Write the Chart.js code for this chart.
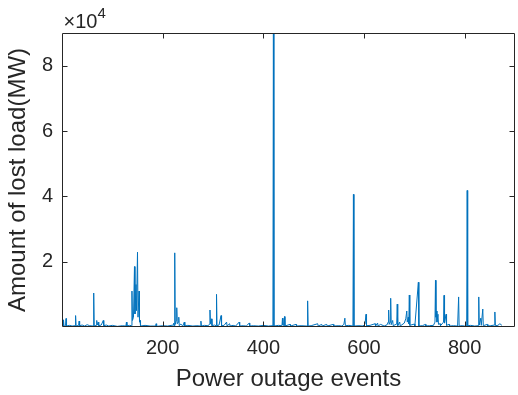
<!DOCTYPE html>
<html>
<head>
<meta charset="utf-8">
<script src="https://cdn.jsdelivr.net/npm/chart.js@4"></script>
<style>
  html, body { margin: 0; padding: 0; background: #fff; }
  #wrap { width: 518px; height: 395px; position: relative; }
</style>
</head>
<body>
<div id="wrap"><canvas id="lostLoadChart"></canvas></div>
<script>
// event index and lost load (MW); small values are the near-zero floor
const events = [
  1, 2, 3, 4, 7, 8, 9, 15, 20, 26, 27, 28, 33, 34, 35, 40, 45, 50, 55, 62, 63, 64, 68, 69, 70, 72, 73, 78, 82, 83,
  88, 93, 100, 110, 120, 127, 128, 129, 134, 138, 139, 140, 142, 144, 145, 147, 148, 150, 151, 153, 154, 155, 156,
  165, 175, 186, 187, 188, 200, 210, 221, 222, 223, 224, 225, 227, 228, 229, 231, 232, 233, 236, 240, 243, 244,
  250, 260, 268, 275, 276, 277, 283, 290, 293, 294, 295, 297, 298, 303, 306, 307, 308, 312, 316, 317, 322, 327,
  328, 333, 334, 340, 345, 352, 353, 360, 366, 372, 373, 380, 390, 400, 410, 418, 419, 420, 421, 430, 437, 438,
  439, 441, 442, 443, 453, 454, 465, 466, 475, 487, 488, 489, 495, 508, 509, 516, 517, 526, 527, 539, 540, 550,
  556, 560, 562, 563, 570, 578, 579, 580, 590, 598, 602, 604, 605, 612, 622, 623, 627, 628, 633, 640, 646, 648,
  649, 650, 652, 653, 654, 657, 658, 665, 666, 667, 671, 672, 680, 683, 685, 686, 688, 689, 690, 691, 700, 701,
  708, 709, 716, 722, 723, 730, 738, 741, 742, 743, 744, 745, 747, 748, 751, 752, 758, 759, 760, 763, 764, 769,
  770, 778, 786, 788, 789, 795, 800, 804, 805, 806, 812, 820, 827, 828, 829, 832, 833, 836, 837, 845, 846, 852,
  859, 860, 861, 866, 870, 874
];
const loads = [
  1500, 300, 2200, 200, 400, 2600, 300, 500, 300, 400, 3500, 300, 500, 1800, 400, 600, 300, 700, 400, 300, 10400, 300, 500, 2000, 600, 1500, 400, 600, 2000, 400,
  600, 300, 500, 200, 400, 300, 1500, 300, 500, 400, 11000, 2000, 3000, 18500, 4000, 13000, 5000, 22900, 3000, 11000, 1500, 2000, 300,
  500, 300, 300, 1000, 200, 400, 300, 600, 1200, 300, 22700, 800, 2000, 5900, 1000, 1500, 3000, 400, 900, 300, 1500, 300,
  500, 300, 400, 300, 1800, 300, 500, 400, 800, 5200, 1000, 2500, 400, 600, 400, 10000, 400, 600, 3500, 400, 500, 1500,
  300, 1000, 300, 500, 300, 1500, 300, 400, 300, 1200, 300, 400, 300, 500, 300, 400, 300, 95000, 300, 500, 400, 2700,
  600, 500, 3200, 300, 800, 300, 800, 300, 400, 300, 8000, 300, 400, 1000, 300, 800, 300, 800, 300, 800, 300, 400,
  300, 800, 2700, 400, 500, 300, 40600, 300, 400, 300, 900, 3900, 400, 500, 1000, 300, 1200, 300, 800, 300, 700, 1500,
  5200, 800, 1500, 8800, 700, 2000, 400, 900, 7000, 400, 1500, 300, 1200, 2500, 4900, 1500, 3000, 1000, 9800, 500, 900, 300,
  13700, 300, 400, 800, 300, 400, 500, 1500, 14300, 3000, 4900, 1500, 3900, 800, 1000, 400, 1500, 9700, 1200, 3900, 500, 800,
  300, 400, 300, 9200, 300, 400, 300, 300, 41800, 400, 500, 300, 400, 9200, 600, 2700, 500, 5500, 400, 800, 300, 400,
  600, 4600, 400, 500, 1000, 500
];

const xTicks = [200, 400, 600, 800];
const yTicks = [20000, 40000, 60000, 80000];
const yExponent = 4;

const axisColor = '#262626';
const lineColor = '#0072BD';
const fontFamily = "'Liberation Sans', Arial, sans-serif";

// MATLAB style box with inward ticks and the x10^4 multiplier
const matlabBox = {
  id: 'matlabBox',
  afterDraw(chart) {
    const { ctx, chartArea: a, scales } = chart;
    const L = Math.round(a.left) + 0.5, R = Math.round(a.right) - 0.5;
    const T = Math.round(a.top) + 0.5, B = Math.round(a.bottom) - 0.5;
    const tl = 5;
    ctx.save();
    ctx.strokeStyle = axisColor;
    ctx.lineWidth = 1;
    ctx.beginPath();
    ctx.rect(L, T, R - L, B - T);
    xTicks.forEach(v => {
      const px = Math.round(scales.x.getPixelForValue(v)) + 0.5;
      ctx.moveTo(px, B); ctx.lineTo(px, B - tl);
      ctx.moveTo(px, T); ctx.lineTo(px, T + tl);
    });
    yTicks.forEach(v => {
      const py = Math.round(scales.y.getPixelForValue(v)) + 0.5;
      ctx.moveTo(L, py); ctx.lineTo(L + tl, py);
      ctx.moveTo(R, py); ctx.lineTo(R - tl, py);
    });
    ctx.stroke();

    ctx.fillStyle = axisColor;
    ctx.textBaseline = 'alphabetic';
    ctx.textAlign = 'left';
    ctx.font = '20px ' + fontFamily;
    const base = '\u00d710';
    ctx.fillText(base, L + 1, T - 6);
    const w = ctx.measureText(base).width;
    ctx.font = '15px ' + fontFamily;
    ctx.fillText(String(yExponent), L + 1 + w, T - 16);
    ctx.restore();
  }
};

new Chart(document.getElementById('lostLoadChart'), {
  type: 'line',
  data: {
    datasets: [{
      data: events.map((e, i) => ({ x: e, y: loads[i] })),
      borderColor: lineColor,
      borderWidth: 1,
      pointRadius: 0,
      tension: 0,
      fill: false
    }]
  },
  options: {
    responsive: true,
    maintainAspectRatio: false,
    animation: false,
    layout: { padding: { top: 33, right: 3, left: 0, bottom: 0 } },
    plugins: { legend: { display: false }, tooltip: { enabled: false } },
    scales: {
      x: {
        type: 'linear',
        min: 0,
        max: 900,
        afterFit(scale) { scale.height = 68; },
        afterBuildTicks(scale) { scale.ticks = xTicks.map(v => ({ value: v })); },
        grid: { display: false, drawTicks: false },
        border: { display: false },
        ticks: {
          padding: 9,
          color: axisColor,
          font: { family: fontFamily, size: 20 },
          maxRotation: 0,
          callback: v => String(v)
        },
        title: {
          display: true,
          text: 'Power outage events',
          color: axisColor,
          font: { family: fontFamily, size: 24 },
          padding: { top: 0, bottom: 1 }
        }
      },
      y: {
        min: 0,
        max: 90000,
        afterFit(scale) { scale.width = 62; },
        afterBuildTicks(scale) { scale.ticks = yTicks.map(v => ({ value: v })); },
        grid: { display: false, drawTicks: false },
        border: { display: false },
        ticks: {
          padding: 9,
          color: axisColor,
          font: { family: fontFamily, size: 20 },
          callback: v => String(v / Math.pow(10, yExponent))
        },
        title: {
          display: true,
          text: 'Amount of lost load(MW)',
          color: axisColor,
          font: { family: fontFamily, size: 24 },
          padding: { top: 4, bottom: 0 }
        }
      }
    }
  },
  plugins: [matlabBox]
});
</script>
</body>
</html>
